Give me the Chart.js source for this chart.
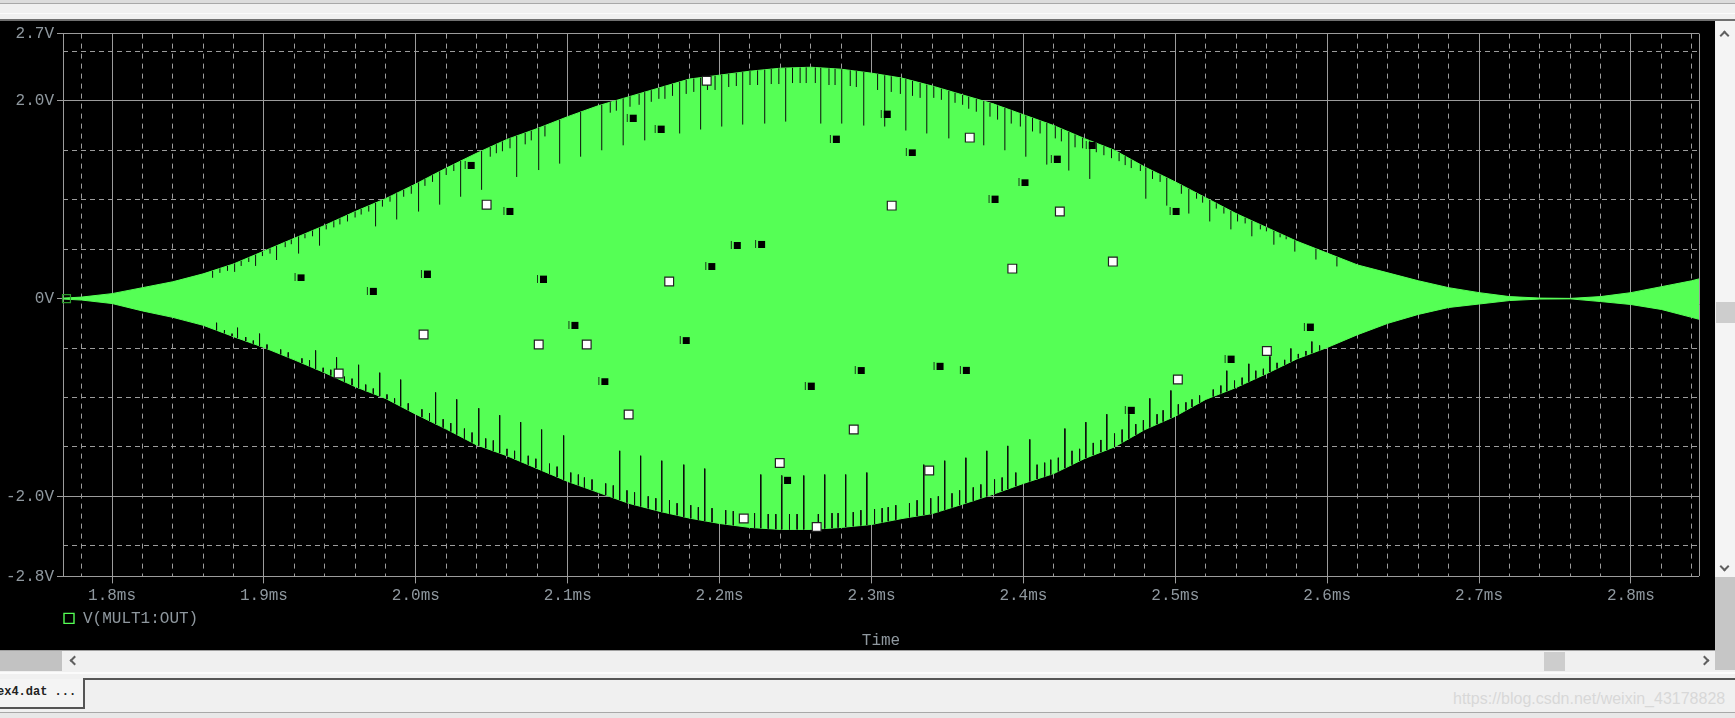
<!DOCTYPE html>
<html>
<head>
<meta charset="utf-8">
<title>V(MULT1:OUT)</title>
<script src="https://cdn.jsdelivr.net/npm/chart.js@4"></script>
<style>
    html, body { margin: 0; padding: 0; width: 1735px; height: 718px; overflow: hidden; background: #f0f0f0; }
    div { position: absolute; box-sizing: border-box; }
    #plot { left: 0; top: 21px; width: 1715px; height: 629px; background: #000; }
    canvas { display: block; }
    .chev { width: 7px; height: 7px; border-left: 2px solid #606060; border-top: 2px solid #606060; }
</style>
</head>
<body>
<div style="left:0;top:0;width:1735px;height:3px;background:#dcdcdc"></div>
<div style="left:0;top:3px;width:1735px;height:1px;background:#a8a8a8"></div>
<div style="left:0;top:13px;width:1735px;height:1px;background:#fbfbfb"></div>
<div style="left:0;top:19px;width:1735px;height:2px;background:#707070"></div>

<div id="plot"><canvas id="trace" width="1715" height="629"></canvas></div>

<!-- scrollbars -->
<div style="left:1716px;top:21px;width:19px;height:556px;background:#f4f4f4"></div>
<div class="chev" style="left:1721px;top:32px;transform:rotate(45deg)"></div>
<div class="chev" style="left:1721px;top:563px;transform:rotate(225deg)"></div>
<div style="left:1716px;top:302px;width:19px;height:21px;background:#cdcdcd"></div>
<div style="left:1715px;top:577px;width:20px;height:93px;background:#c6c6c6"></div>
<div style="left:0;top:651px;width:62px;height:20px;background:#c2c2c2"></div>
<div style="left:62px;top:650px;width:1653px;height:21px;background:#f0f0f0;border-top:1px solid #a0a0a0"></div>
<div style="left:0;top:650px;width:62px;height:1px;background:#a0a0a0"></div>
<div class="chev" style="left:71px;top:657px;transform:rotate(-45deg)"></div>
<div class="chev" style="left:1701px;top:657px;transform:rotate(135deg)"></div>
<div style="left:1544px;top:652px;width:21px;height:19px;background:#cdcdcd"></div>
<div style="left:0;top:672px;width:1735px;height:2px;background:#fbfbfb"></div>

<!-- tab strip -->
<div style="left:84px;top:678px;width:1651px;height:2px;background:#555"></div>
<div style="left:0;top:679px;width:84px;height:29px;background:#f4f4f4;font:bold 12px 'Liberation Mono',monospace;color:#222;line-height:26px;white-space:nowrap;overflow:hidden;text-indent:-3px">ex4.dat ...</div>
<div style="left:83px;top:678px;width:2px;height:31px;background:#555"></div>
<div style="left:0;top:707px;width:84px;height:2px;background:#555"></div>
<div style="left:0;top:712px;width:1735px;height:1px;background:#a8a8a8"></div>
<div style="left:0;top:713px;width:1735px;height:5px;background:#e8e8e8"></div>
<div style="left:1453px;top:689px;font:16px 'Liberation Sans',sans-serif;color:#d8d8d8;white-space:nowrap;line-height:20px">https://blog.csdn.net/weixin_43178828</div>

<script>
// envelope of the trace, read at the 0.02 ms grid lines
const envelopeTime = [1.768, 1.78, 1.8, 1.82, 1.84, 1.86, 1.88, 1.9, 1.92, 1.94, 1.96, 1.98, 2.0, 2.02, 2.04, 2.06, 2.08, 2.1, 2.12, 2.14, 2.16, 2.18, 2.2, 2.22, 2.24, 2.26, 2.28, 2.3, 2.32, 2.34, 2.36, 2.38, 2.4, 2.42, 2.44, 2.46, 2.48, 2.5, 2.52, 2.54, 2.56, 2.58, 2.6, 2.62, 2.64, 2.66, 2.68, 2.7, 2.72, 2.74, 2.76, 2.78, 2.8, 2.82, 2.84, 2.845];
const envelopeUpper = [0.005, 0.015, 0.05, 0.11, 0.17, 0.25, 0.35, 0.48, 0.61, 0.74, 0.88, 1.01, 1.16, 1.32, 1.47, 1.61, 1.72, 1.84, 1.95, 2.04, 2.13, 2.22, 2.26, 2.30, 2.33, 2.34, 2.32, 2.28, 2.23, 2.15, 2.06, 1.97, 1.86, 1.75, 1.62, 1.50, 1.33, 1.18, 1.02, 0.86, 0.72, 0.58, 0.46, 0.34, 0.26, 0.18, 0.11, 0.06, 0.02, 0.005, 0.002, 0.02, 0.06, 0.12, 0.18, 0.20];
const envelopeLower = [-0.005, -0.015, -0.05, -0.125, -0.19, -0.27, -0.385, -0.495, -0.62, -0.75, -0.89, -1.01, -1.17, -1.32, -1.48, -1.59, -1.72, -1.85, -1.96, -2.07, -2.15, -2.22, -2.275, -2.315, -2.335, -2.335, -2.315, -2.285, -2.225, -2.175, -2.08, -1.98, -1.87, -1.77, -1.62, -1.50, -1.325, -1.19, -1.02, -0.90, -0.76, -0.61, -0.495, -0.365, -0.25, -0.16, -0.09, -0.055, -0.02, -0.005, -0.003, -0.03, -0.06, -0.11, -0.19, -0.21];

// dark notches along the upper edge: where they sit and how far in they reach
const upperLongTime = [1.8662, 1.8807, 1.8945, 1.9083, 1.9228, 1.9366, 1.9735, 1.9874, 2.0018, 2.0157, 2.0295, 2.0433, 2.0664, 2.0809, 2.0947, 2.1085, 2.1224, 2.1365, 2.1507, 2.1737, 2.1875, 2.2014, 2.2152, 2.2297, 2.2435, 2.2666, 2.2804, 2.2949, 2.3087, 2.3226, 2.3364, 2.3509, 2.3739, 2.3878, 2.4016, 2.4154, 2.4299, 2.4437, 2.4806, 2.4944, 2.5089, 2.5227, 2.5366, 2.5504, 2.5649, 2.5787, 2.5926, 2.6064];
const upperLongTip = [0.21, 0.27, 0.33, 0.39, 0.455, 0.535, 0.73, 0.80, 0.88, 0.95, 1.03, 1.10, 1.23, 1.30, 1.365, 1.435, 1.50, 1.55, 1.60, 1.67, 1.71, 1.74, 1.76, 1.77, 1.79, 1.77, 1.77, 1.75, 1.74, 1.70, 1.67, 1.62, 1.55, 1.50, 1.435, 1.355, 1.295, 1.21, 1.01, 0.94, 0.86, 0.78, 0.70, 0.63, 0.545, 0.475, 0.395, 0.325];
const upperShortTime = [1.871, 1.876, 1.885, 1.890, 1.899, 1.904, 1.914, 1.918, 1.927, 1.932, 1.941, 1.946, 1.950, 1.955, 1.960, 1.964, 1.969, 1.978, 1.983, 1.992, 1.997, 2.006, 2.011, 2.020, 2.025, 2.049, 2.053, 2.057, 2.062, 2.072, 2.076, 2.085, 2.128, 2.132, 2.141, 2.147, 2.155, 2.160, 2.164, 2.169, 2.178, 2.183, 2.192, 2.197, 2.206, 2.211, 2.220, 2.225, 2.234, 2.239, 2.248, 2.253, 2.257, 2.263, 2.272, 2.276, 2.286, 2.290, 2.304, 2.313, 2.319, 2.327, 2.332, 2.341, 2.346, 2.355, 2.360, 2.364, 2.369, 2.378, 2.383, 2.392, 2.398, 2.406, 2.411, 2.421, 2.425, 2.434, 2.439, 2.448, 2.453, 2.458, 2.463, 2.467, 2.471, 2.477, 2.485, 2.490, 2.504, 2.514, 2.518, 2.527, 2.532, 2.541, 2.546, 2.556, 2.560, 2.569, 2.573];
const upperShortTip = [0.26, 0.28, 0.33, 0.37, 0.43, 0.455, 0.52, 0.55, 0.61, 0.63, 0.70, 0.72, 0.75, 0.78, 0.82, 0.85, 0.88, 0.93, 0.98, 1.03, 1.06, 1.14, 1.18, 1.25, 1.29, 1.435, 1.47, 1.49, 1.52, 1.56, 1.60, 1.64, 1.88, 1.90, 1.94, 1.96, 1.99, 2.02, 2.02, 2.05, 2.07, 2.09, 2.11, 2.11, 2.14, 2.15, 2.16, 2.16, 2.17, 2.17, 2.18, 2.18, 2.18, 2.18, 2.16, 2.16, 2.15, 2.14, 2.11, 2.09, 2.07, 2.05, 2.03, 2.03, 2.01, 1.98, 1.96, 1.92, 1.89, 1.84, 1.81, 1.77, 1.74, 1.69, 1.67, 1.62, 1.59, 1.53, 1.52, 1.48, 1.45, 1.42, 1.39, 1.35, 1.32, 1.29, 1.21, 1.18, 1.06, 1.01, 0.97, 0.91, 0.86, 0.78, 0.76, 0.70, 0.68, 0.62, 0.60];

// same along the lower edge
const lowerLongTime = [1.8688, 1.8826, 1.8971, 1.9340, 1.9478, 1.9623, 1.9762, 1.9900, 2.0130, 2.0269, 2.0414, 2.0552, 2.0690, 2.0828, 2.0973, 2.1342, 2.1480, 2.1619, 2.1764, 2.1902, 2.2271, 2.2409, 2.2554, 2.2692, 2.2830, 2.2969, 2.3344, 2.3482, 2.3621, 2.3759, 2.3897, 2.4042, 2.4273, 2.4411, 2.4549, 2.4694, 2.4832, 2.4971, 2.5339, 2.5484, 2.5623, 2.5761, 2.5899];
const lowerLongTip = [-0.245, -0.295, -0.355, -0.525, -0.595, -0.67, -0.75, -0.82, -0.95, -1.02, -1.11, -1.18, -1.25, -1.325, -1.385, -1.54, -1.59, -1.64, -1.68, -1.72, -1.78, -1.79, -1.79, -1.78, -1.78, -1.76, -1.68, -1.64, -1.61, -1.54, -1.49, -1.425, -1.315, -1.25, -1.17, -1.17, -1.01, -0.93, -0.73, -0.66, -0.585, -0.505, -0.435];
const lowerShortTime = [1.874, 1.879, 1.888, 1.893, 1.902, 1.911, 1.916, 1.925, 1.930, 1.939, 1.944, 1.953, 1.958, 1.967, 1.972, 1.981, 1.986, 1.995, 2.004, 2.009, 2.018, 2.023, 2.032, 2.037, 2.046, 2.051, 2.060, 2.065, 2.074, 2.079, 2.088, 2.093, 2.102, 2.107, 2.111, 2.116, 2.125, 2.130, 2.139, 2.144, 2.153, 2.158, 2.167, 2.172, 2.181, 2.186, 2.195, 2.204, 2.209, 2.223, 2.232, 2.237, 2.246, 2.251, 2.265, 2.274, 2.278, 2.288, 2.293, 2.302, 2.307, 2.311, 2.316, 2.325, 2.330, 2.339, 2.344, 2.353, 2.358, 2.367, 2.372, 2.381, 2.386, 2.395, 2.409, 2.414, 2.418, 2.423, 2.432, 2.437, 2.446, 2.451, 2.460, 2.465, 2.474, 2.479, 2.488, 2.492, 2.502, 2.507, 2.511, 2.516, 2.525, 2.530, 2.539, 2.544, 2.553, 2.558, 2.567, 2.572, 2.581, 2.586, 2.595];
const lowerShortTip = [-0.32, -0.355, -0.39, -0.425, -0.465, -0.515, -0.545, -0.605, -0.625, -0.70, -0.72, -0.79, -0.81, -0.87, -0.91, -0.97, -1.01, -1.06, -1.12, -1.16, -1.22, -1.26, -1.315, -1.355, -1.415, -1.435, -1.52, -1.54, -1.59, -1.62, -1.67, -1.70, -1.76, -1.78, -1.81, -1.83, -1.87, -1.89, -1.94, -1.96, -2.00, -2.02, -2.04, -2.07, -2.09, -2.11, -2.12, -2.14, -2.15, -2.17, -2.18, -2.18, -2.18, -2.18, -2.18, -2.17, -2.17, -2.16, -2.14, -2.13, -2.12, -2.11, -2.09, -2.07, -2.04, -2.02, -2.00, -1.97, -1.94, -1.91, -1.88, -1.83, -1.81, -1.76, -1.68, -1.66, -1.63, -1.61, -1.54, -1.52, -1.46, -1.43, -1.365, -1.325, -1.27, -1.23, -1.17, -1.13, -1.07, -1.05, -1.02, -0.98, -0.92, -0.88, -0.83, -0.80, -0.73, -0.71, -0.65, -0.62, -0.56, -0.53, -0.475];

// the trace's own markers
const whiteTime = [2.1915, 2.3647, 2.0466, 2.3133, 2.4240, 2.3927, 2.4589, 2.1668, 2.0051, 2.0809, 2.1125, 1.9492, 2.1401, 2.5603, 2.5017, 2.2883, 2.2396, 2.3380, 2.2159, 2.2639];
const whiteVolt = [2.204, 1.628, 0.95, 0.94, 0.88, 0.303, 0.374, 0.172, -0.364, -0.465, -0.465, -0.758, -1.173, -0.53, -0.819, -1.325, -1.663, -1.739, -2.224, -2.31];
const blackTime = [1.9241, 1.9717, 2.0073, 2.0361, 2.0616, 2.0837, 2.1044, 2.1241, 2.1428, 2.1612, 2.1945, 2.2113, 2.2273, 2.1777, 2.2600, 2.2929, 2.2444, 2.2765, 2.3100, 2.3265, 2.3448, 2.3621, 2.3810, 2.4007, 2.4220, 2.4450, 2.5002, 2.4707, 2.5364, 2.5886];
const blackVolt = [0.215, 0.078, 0.253, 1.352, 0.887, 0.202, -0.266, -0.836, 1.83, 1.719, 0.329, 0.542, 0.553, -0.42, -0.88, -0.723, -1.833, 1.618, 1.871, 1.479, -0.68, -0.721, 1.011, 1.176, 1.416, 1.554, 0.887, -1.125, -0.607, -0.283];
const startTime = [1.770];
const startVolt = [0];

// axes
const timeMin = 1.7677;
const timeMax = 2.8448;
const voltMin = -2.81;
const voltMax = 2.68;
const xMajorTicks = [1.8, 1.9, 2.0, 2.1, 2.2, 2.3, 2.4, 2.5, 2.6, 2.7, 2.8];
const xMajorLabels = ['1.8ms', '1.9ms', '2.0ms', '2.1ms', '2.2ms', '2.3ms', '2.4ms', '2.5ms', '2.6ms', '2.7ms', '2.8ms'];
const xMinorTicks = [1.78, 1.82, 1.84, 1.86, 1.88, 1.92, 1.94, 1.96, 1.98, 2.02, 2.04, 2.06, 2.08, 2.12, 2.14, 2.16, 2.18, 2.22, 2.24, 2.26, 2.28, 2.32, 2.34, 2.36, 2.38, 2.42, 2.44, 2.46, 2.48, 2.52, 2.54, 2.56, 2.58, 2.62, 2.64, 2.66, 2.68, 2.72, 2.74, 2.76, 2.78, 2.82, 2.84];
const yMajorTicks = [voltMax, 2, 0, -2, voltMin];
const yMajorLabels = ['2.7V', '2.0V', '0V', '-2.0V', '-2.8V'];
const yMinorTicks = [2.5, 1.5, 1, 0.5, -0.5, -1, -1.5, -2.5];

const traceName = 'V(MULT1:OUT)';
const axisFont = { family: "'Liberation Mono', monospace", size: 16 };
const textColor = '#8f989f';
const gridColor = '#9c9c9c';
const green = '#55ff55';

function zip(xs, ys) {
    return xs.map((x, i) => ({ x: x, y: ys[i] }));
}

// edge of the fill below a notch, so the notch starts on the edge and not beyond it
function edgeAt(t, values) {
    let i = 0;
    while (i < envelopeTime.length - 2 && envelopeTime[i + 1] < t) i++;
    const f = (t - envelopeTime[i]) / (envelopeTime[i + 1] - envelopeTime[i]);
    return values[i] + (values[i + 1] - values[i]) * f;
}

function notchPoints(times, tips, edge) {
    let pts = [];
    times.forEach((t, i) => {
        pts.push({ x: t, y: tips[i] });
        pts.push({ x: t, y: edgeAt(t, edge) });
        pts.push({ x: t, y: NaN });
    });
    return pts;
}

function notchDataset(times, tips, edge) {
    return {
        data: notchPoints(times, tips, edge),
        showLine: true,
        borderColor: '#0c0c0c',
        borderWidth: 1,
        pointRadius: 0,
        order: 3
    };
}

// black marker has a small bar on its left
function blackMarker() {
    const c = document.createElement('canvas');
    c.width = 14;
    c.height = 8;
    const g = c.getContext('2d');
    g.fillStyle = '#000';
    g.fillRect(4, 1, 7, 7);
    g.fillStyle = '#183818';
    g.fillRect(1, 0, 1, 8);
    return c;
}

window.onload = () => {
    const config = {
        type: 'scatter',
        data: {
            datasets: [
                {
                    label: traceName,
                    data: zip(envelopeTime, envelopeUpper),
                    showLine: true,
                    borderColor: green,
                    borderWidth: 1,
                    backgroundColor: green,
                    pointRadius: 0,
                    fill: '+1',
                    order: 5
                },
                {
                    data: zip(envelopeTime, envelopeLower),
                    showLine: true,
                    borderColor: green,
                    borderWidth: 1,
                    pointRadius: 0,
                    order: 5
                },
                notchDataset(upperLongTime, upperLongTip, envelopeUpper),
                notchDataset(upperShortTime, upperShortTip, envelopeUpper),
                notchDataset(lowerLongTime, lowerLongTip, envelopeLower),
                notchDataset(lowerShortTime, lowerShortTip, envelopeLower),
                {
                    data: zip(whiteTime, whiteVolt),
                    pointStyle: 'rect',
                    pointRadius: 6.2,
                    pointBackgroundColor: '#fff',
                    pointBorderColor: '#222',
                    pointBorderWidth: 1.2,
                    order: 1
                },
                {
                    data: zip(blackTime, blackVolt),
                    pointStyle: blackMarker(),
                    order: 1
                },
                {
                    data: zip(startTime, startVolt),
                    pointStyle: 'rect',
                    pointRadius: 5.6,
                    pointBackgroundColor: 'rgba(0,0,0,0)',
                    pointBorderColor: '#2b9a2b',
                    pointBorderWidth: 1.2,
                    clip: false,
                    order: 1
                }
            ]
        },
        options: {
            responsive: false,
            devicePixelRatio: 1,
            animation: false,
            events: [],
            layout: { padding: { top: 11, right: 16, left: 0, bottom: 0 } },
            plugins: {
                tooltip: { enabled: false },
                legend: {
                    position: 'bottom',
                    align: 'start',
                    fullSize: false,
                    maxHeight: 20.4,
                    labels: {
                        color: textColor,
                        font: axisFont,
                        usePointStyle: true,
                        boxWidth: 12,
                        boxHeight: 10,
                        padding: 0,
                        generateLabels: () => [{
                            text: traceName,
                            fillStyle: '#000',
                            strokeStyle: green,
                            lineWidth: 1.4,
                            pointStyle: 'rect',
                            fontColor: textColor,
                            datasetIndex: 0
                        }]
                    }
                },
                title: {
                    display: true,
                    text: 'Time',
                    position: 'bottom',
                    fullSize: false,
                    color: textColor,
                    font: { family: axisFont.family, size: 16, weight: 'normal' },
                    padding: 0
                }
            },
            scales: {
                x: {
                    type: 'linear',
                    min: timeMin,
                    max: timeMax,
                    afterFit: (s) => { s.height = 34; },
                    afterBuildTicks: (s) => {
                        const all = [timeMin].concat(xMinorTicks, xMajorTicks, [timeMax]);
                        s.ticks = all.map(v => ({ value: v }));
                    },
                    ticks: {
                        autoSkip: false,
                        maxRotation: 0,
                        color: textColor,
                        font: axisFont,
                        padding: 3,
                        callback: (v) => {
                            const i = xMajorTicks.indexOf(v);
                            return i >= 0 ? xMajorLabels[i] : '';
                        }
                    },
                    border: {
                        display: false,
                        dash: (ctx) => {
                            if (!ctx.tick) return [];
                            const v = ctx.tick.value;
                            return (xMajorTicks.includes(v) || v === timeMin || v === timeMax) ? [] : [5, 5];
                        }
                    },
                    grid: {
                        color: gridColor,
                        lineWidth: 1,
                        tickLength: 7,
                        tickColor: (ctx) => (ctx.tick && xMajorTicks.includes(ctx.tick.value)) ? gridColor : 'rgba(0,0,0,0)'
                    }
                },
                y: {
                    type: 'linear',
                    min: voltMin,
                    max: voltMax,
                    afterFit: (s) => { s.width = 63; },
                    afterBuildTicks: (s) => {
                        s.ticks = yMajorTicks.concat(yMinorTicks).map(v => ({ value: v }));
                    },
                    ticks: {
                        autoSkip: false,
                        color: textColor,
                        font: axisFont,
                        padding: 3,
                        callback: (v) => {
                            const i = yMajorTicks.indexOf(v);
                            return i >= 0 ? yMajorLabels[i] : '';
                        }
                    },
                    border: {
                        display: false,
                        dash: (ctx) => (ctx.tick && yMinorTicks.includes(ctx.tick.value)) ? [5, 4] : []
                    },
                    grid: {
                        color: gridColor,
                        lineWidth: 1,
                        tickLength: 6,
                        tickColor: (ctx) => (ctx.tick && yMajorTicks.includes(ctx.tick.value)) ? gridColor : 'rgba(0,0,0,0)'
                    }
                }
            }
        }
    };

    new Chart(document.getElementById('trace'), config);
};
</script>
</body>
</html>
